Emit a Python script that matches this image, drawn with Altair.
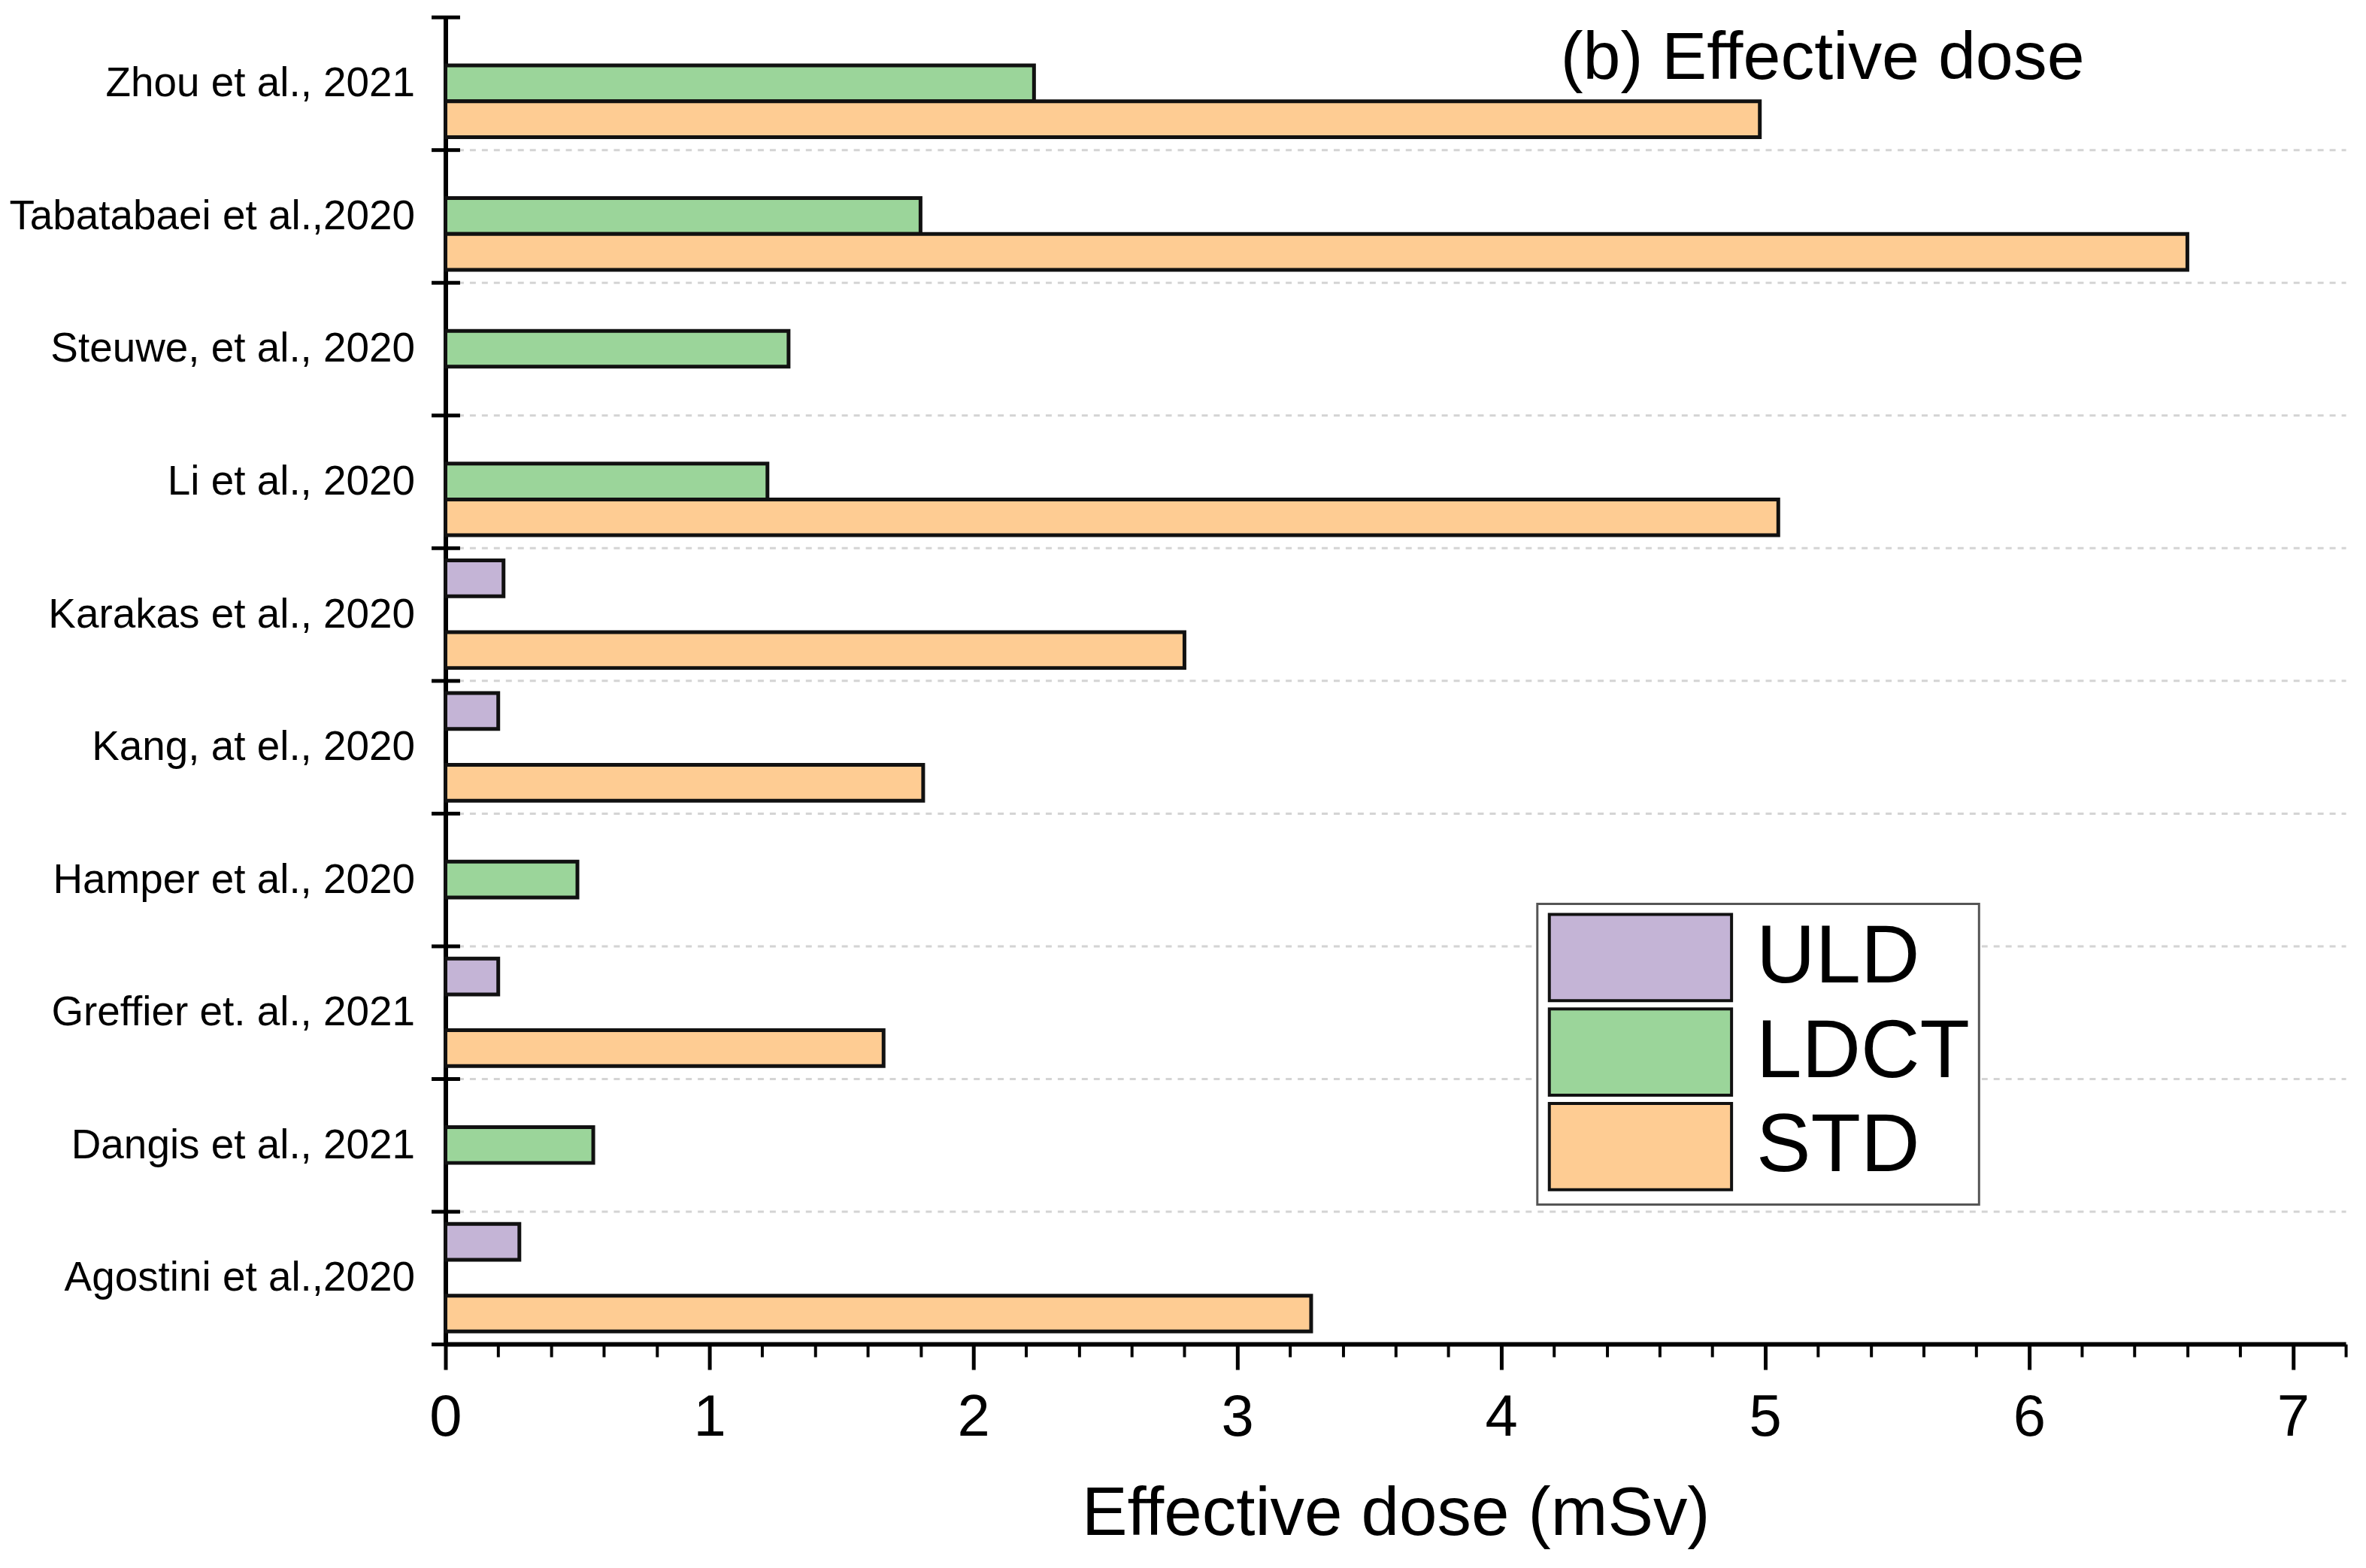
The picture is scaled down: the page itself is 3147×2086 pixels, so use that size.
import altair as alt
import pandas as pd

studies = ["Zhou et al., 2021", "Tabatabaei et al.,2020", "Steuwe, et al., 2020",
           "Li et al., 2020", "Karakas et al., 2020", "Kang, at el., 2020",
           "Hamper et al., 2020", "Greffier et. al., 2021", "Dangis et al., 2021",
           "Agostini et al.,2020"]
series = ["ULD", "LDCT", "STD"]
colors = ["#C4B4D6", "#9BD59A", "#FECC93"]

uld = [None, None, None, None, 0.22, 0.20, None, 0.20, None, 0.28]
ldct = [2.23, 1.80, 1.30, 1.22, None, None, 0.50, None, 0.56, None]
std = [4.98, 6.60, None, 5.05, 2.80, 1.81, None, 1.66, None, 3.28]

major_ticks = [0, 1, 2, 3, 4, 5, 6, 7]
minor_ticks = [round(i * 0.2, 1) for i in range(37) if i % 5 != 0]

rows = []
for name, vals in zip(series, [uld, ldct, std]):
    for s, v in zip(studies, vals):
        if v is not None:
            rows.append({"study": s, "series": name, "value": v})
df = pd.DataFrame(rows)

W, H = 2534, 1770
FONT = "Liberation Sans"

bars = alt.Chart(df).mark_bar(stroke="#111111", strokeWidth=5, opacity=1).encode(
    x=alt.X("value:Q",
            scale=alt.Scale(domain=[0, 7.2], nice=False, zero=True),
            axis=alt.Axis(values=major_ticks, format="d", title="Effective dose (mSv)",
                          tickSize=34, tickWidth=5, labelFontSize=78, labelPadding=26,
                          labelFlush=False, titleFontSize=91, titlePadding=44,
                          titleFontWeight="normal", grid=False, domainWidth=6)),
    y=alt.Y("study:N", sort=studies,
            scale=alt.Scale(paddingInner=0, paddingOuter=0),
            axis=alt.Axis(title=None, labelFontSize=55, labelPadding=22, labelLimit=700,
                          tickSize=19, tickWidth=5, tickBand="extent", domainWidth=6,
                          grid=True, gridDash=[8, 8], gridColor="#d4d4d4", gridWidth=3,
                          gridOpacity={"condition": {"test": "datum.index < 0", "value": 0},
                                       "value": 1})),
    yOffset=alt.YOffset("series:N", sort=series,
                        scale=alt.Scale(paddingInner=0, paddingOuter=0.351)),
    color=alt.Color("series:N", sort=series,
                    scale=alt.Scale(domain=series, range=colors),
                    legend=alt.Legend(title=None, orient="none", legendX=1456, legendY=1183,
                                      symbolType="M-2.113,-1H2.113V1H-2.113Z",
                                      symbolSize=13225, symbolStrokeColor="#111111",
                                      symbolStrokeWidth=4, symbolOffset=66, symbolOpacity=1,
                                      labelOffset=95, labelFontSize=109, labelFont=FONT,
                                      labelLimit=600, labelColor="black",
                                      padding=12, rowPadding=-5,
                                      strokeColor="#555555", fillColor="white")),
)

ticks_layer = alt.Chart(df).mark_bar(opacity=0).encode(
    x=alt.X("value:Q",
            axis=alt.Axis(values=minor_ticks, labels=False, domain=False, grid=False,
                          tickSize=17, tickWidth=4, title=None, orient="bottom")),
    y=alt.Y("study:N", sort=studies,
            axis=alt.Axis(orient="right", offset=-W, labels=False, domain=False, grid=False,
                          tickSize=19, tickWidth=5, tickBand="extent", title=None)),
)

chart = alt.layer(bars, ticks_layer).resolve_axis(
    x="independent", y="independent"
).properties(
    width=W, height=H,
    padding={"left": 586, "top": 12, "right": 19, "bottom": 296},
    autosize=alt.AutoSizeParams(type="none"),
    title=alt.TitleParams("(b) Effective dose", anchor="start", orient="none", frame="group",
                          dx=1487, dy=83, offset=0, fontSize=90, font=FONT,
                          fontWeight="normal", baseline="alphabetic", color="black"),
).configure_view(stroke=None).configure_axis(
    labelFont=FONT, titleFont=FONT, labelColor="black", titleColor="black",
    tickColor="black", domainColor="black"
).configure_legend(strokeWidth=3)

chart.save("out.html", embed_options={"renderer": "svg", "actions": False})
